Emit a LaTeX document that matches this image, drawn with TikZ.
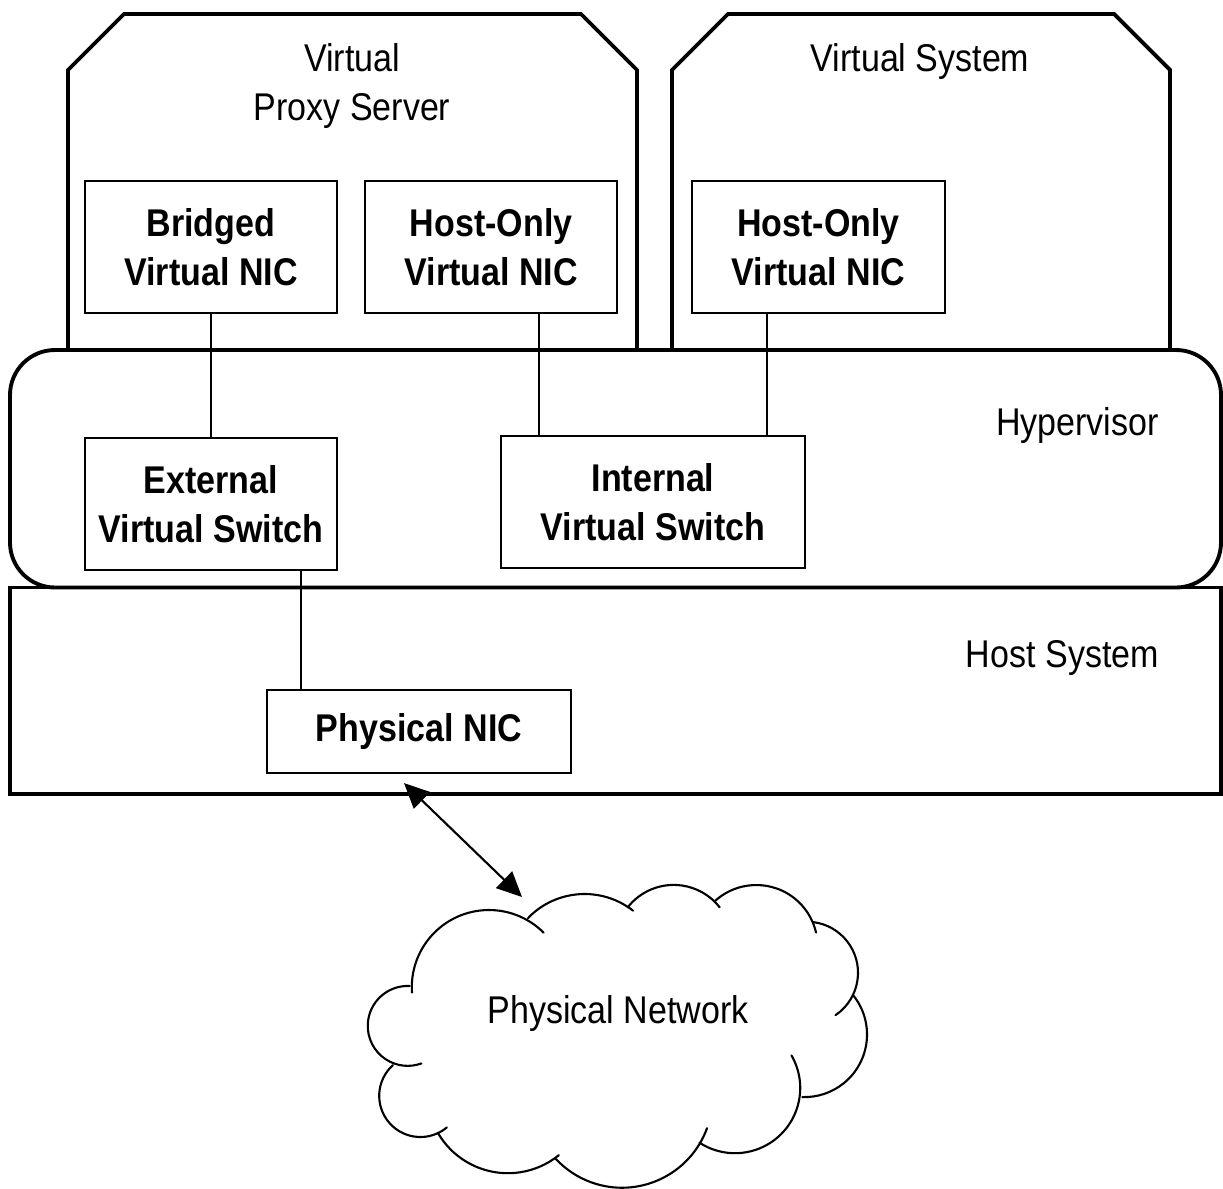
\documentclass[tikz,border=0pt]{standalone}
\usepackage{fontspec}
\setmainfont{Liberation Sans}[FakeStretch=0.88]
\usetikzlibrary{arrows.meta,positioning,calc}
\newcommand{\diagfont}{\fontsize{22}{28}\selectfont}

\begin{document}
\begin{tikzpicture}[
  node distance=0.52cm and 0.52cm,
  layer/.style={line width=2.2pt},
  nic/.style={draw, line width=1.2pt, align=center, font=\diagfont\bfseries, minimum width=5.04cm, minimum height=2.64cm, inner sep=2pt},
  lbl/.style={align=center, font=\diagfont},
  link/.style={line width=0.8pt},
  puff/.style={line width=1.2pt, line cap=round},
  arr/.style={{Triangle[length=0.5cm,width=0.46cm]}-{Triangle[length=0.5cm,width=0.46cm]}, line width=1.2pt}
]
\useasboundingbox (0,0) rectangle (24.46,-23.76);
% guest systems
\draw[layer] (1.36,-7.0) -- (1.36,-1.4) -- (2.48,-0.28) -- (11.62,-0.28) -- (12.74,-1.4) -- (12.74,-7.0);
\draw[layer] (13.44,-7.0) -- (13.44,-1.4) -- (14.56,-0.28) -- (22.28,-0.28) -- (23.4,-1.4) -- (23.4,-7.0);
% hypervisor and host
\draw[layer, rounded corners=0.9cm] (0.2,-7.0) rectangle (24.42,-11.75);
\draw[layer] (0.2,-11.75) rectangle (24.42,-15.88);

\node[lbl] (proxy) at (7.04,-1.72) {Virtual\\Proxy Server};
\node[lbl] (vsys) at (18.4,-1.24) {Virtual System};
\node[lbl, anchor=east] (hyp) at (23.3,-8.5) {Hypervisor};
\node[lbl, anchor=east] (host) at (23.3,-13.16) {Host System};

\node[nic] (brg) at (4.22,-4.94) {Bridged\\Virtual NIC};
\node[nic, right=of brg] (hon1) {Host-Only\\Virtual NIC};
\node[nic, minimum width=5.06cm] (hon2) at (16.37,-4.94) {Host-Only\\Virtual NIC};
\node[nic, below=2.46cm of brg] (ext) {External\\Virtual Switch};
\node[nic, minimum width=6.08cm] (int) at (13.06,-10.04) {Internal\\Virtual Switch};
\node[nic, minimum width=6.08cm, minimum height=1.66cm] (phy) at (8.38,-14.63) {Physical NIC};

% physical network cloud, one arc per puff
\foreach \cx/\cy/\rad/\a/\b in {8.154/-20.518/0.799/87/290, 9.780/-19.744/1.544/184/45,
    11.692/-19.454/1.574/136/52, 13.474/-18.866/1.168/142/38, 15.126/-18.926/1.226/132/13,
    16.138/-19.456/1.022/83/-56, 16.088/-20.690/1.252/39/-92, 14.700/-21.760/1.304/30/-123,
    12.440/-21.944/1.810/-20/-138, 10.158/-21.846/1.618/-51/-150, 8.408/-21.916/0.824/132/310}
  \draw[puff] (\cx,\cy) ++(\a:\rad) arc[start angle=\a, end angle=\b, radius=\rad];
\node[lbl] (net) at (12.36,-20.26) {Physical Network};
\coordinate (nettop) at (10.44,-17.94);

\draw[link] (brg) -- (ext);
\coordinate (inl) at ([xshift=0.78cm]int.north west);
\coordinate (inr) at ([xshift=-0.78cm]int.north east);
\draw[link] (hon1.south -| inl) -- (inl);
\draw[link] (hon2.south -| inr) -- (inr);
\coordinate (exl) at ([xshift=-0.74cm]ext.south east);
\draw[link] (exl) -- (exl |- phy.north);
\draw[arr] ([shift={(-0.3,-0.18)}]phy.south) -- (nettop);
\end{tikzpicture}
\end{document}
